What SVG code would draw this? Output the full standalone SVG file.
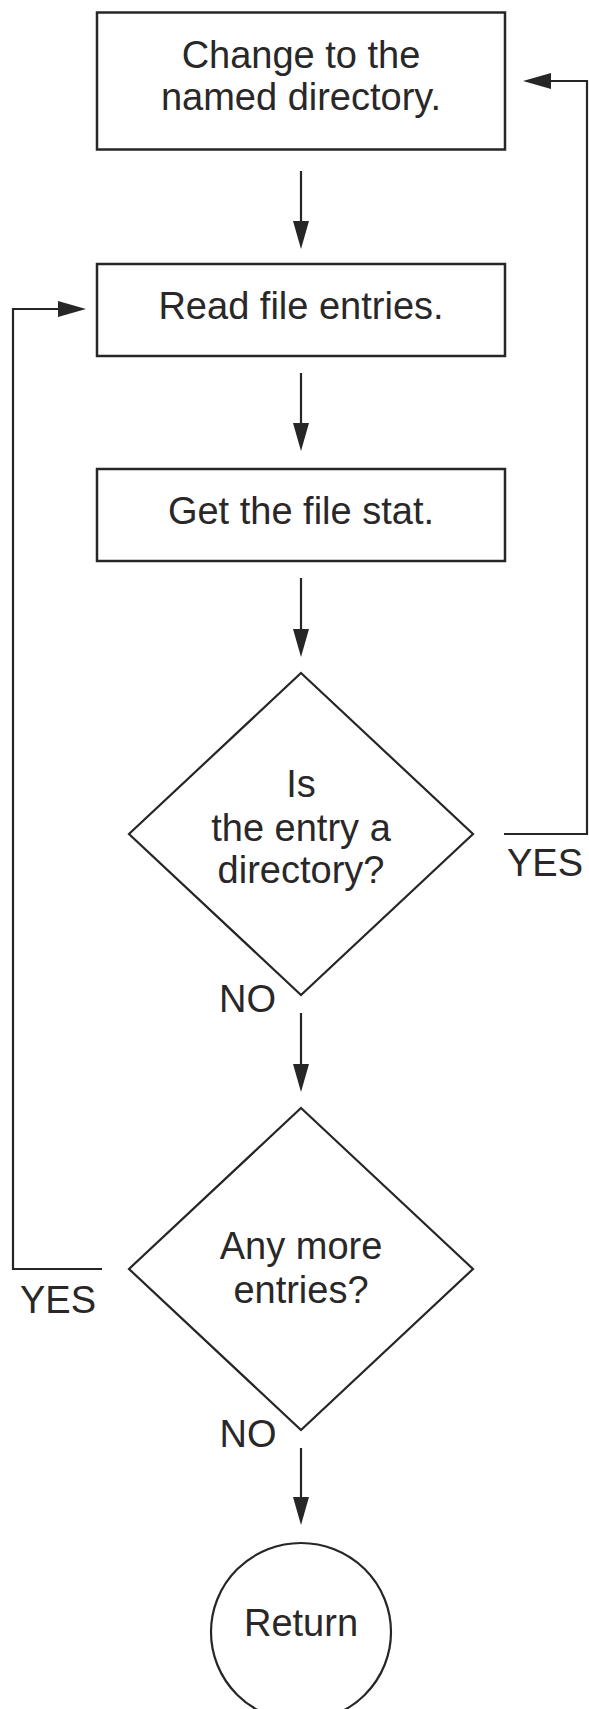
<svg xmlns="http://www.w3.org/2000/svg" width="589" height="1709" viewBox="0 0 589 1709">
  <style>
    .shape { fill: #ffffff; stroke: #262626; stroke-width: 2.5; }
    .diamond { fill: #ffffff; stroke: #262626; stroke-width: 2.2; }
    .conn { fill: none; stroke: #262626; stroke-width: 2.2; }
    .label { font-family: "Liberation Sans", Arial, sans-serif; font-size: 38px; fill: #2a2728; text-anchor: middle; }
  </style>
  <defs>
    <marker id="arrow" markerUnits="userSpaceOnUse" markerWidth="30" markerHeight="18" refX="1" refY="8" orient="auto">
      <path d="M0,0 L28,8 L0,16 Z" fill="#262626"/>
    </marker>
  </defs>

  <!-- process steps -->
  <g id="node-change-dir">
    <rect class="shape" x="97" y="12.5" width="408" height="137"/>
    <text class="label" x="301" y="68">Change to the</text>
    <text class="label" x="301" y="110">named directory.</text>
  </g>

  <g id="node-read-entries">
    <rect class="shape" x="97" y="264" width="408" height="92"/>
    <text class="label" x="301" y="319">Read file entries.</text>
  </g>

  <g id="node-get-stat">
    <rect class="shape" x="97" y="469" width="408" height="92"/>
    <text class="label" x="301" y="524">Get the file stat.</text>
  </g>

  <!-- decisions -->
  <g id="node-is-directory">
    <polygon class="diamond" points="301,673 473,834 301,995 129,834"/>
    <text class="label" x="301" y="797">Is</text>
    <text class="label" x="301" y="841">the entry a</text>
    <text class="label" x="301" y="883">directory?</text>
  </g>

  <g id="node-more-entries">
    <polygon class="diamond" points="301,1108 473,1269 301,1430 129,1269"/>
    <text class="label" x="301" y="1259">Any more</text>
    <text class="label" x="301" y="1303">entries?</text>
  </g>

  <!-- terminator -->
  <g id="node-return">
    <ellipse class="diamond" cx="301" cy="1632" rx="90" ry="89"/>
    <text class="label" x="301" y="1636">Return</text>
  </g>

  <!-- connectors -->
  <g id="connectors">
    <line class="conn" x1="301" y1="171" x2="301" y2="222" marker-end="url(#arrow)"/>
    <line class="conn" x1="301" y1="373" x2="301" y2="424" marker-end="url(#arrow)"/>
    <line class="conn" x1="301" y1="578" x2="301" y2="630" marker-end="url(#arrow)"/>
    <line class="conn" x1="301" y1="1013" x2="301" y2="1065" marker-end="url(#arrow)"/>
    <line class="conn" x1="301" y1="1448" x2="301" y2="1498" marker-end="url(#arrow)"/>
    <!-- directory: loop back to the top step -->
    <polyline class="conn" points="504,834 587,834 587,81 550,81" marker-end="url(#arrow)"/>
    <!-- more entries: loop back to reading -->
    <polyline class="conn" points="102,1269 13,1269 13,309 59,309" marker-end="url(#arrow)"/>
    <text class="label" x="545" y="876">YES</text>
    <text class="label" x="247.5" y="1012">NO</text>
    <text class="label" x="58" y="1313">YES</text>
    <text class="label" x="248" y="1446.5">NO</text>
  </g>
</svg>
